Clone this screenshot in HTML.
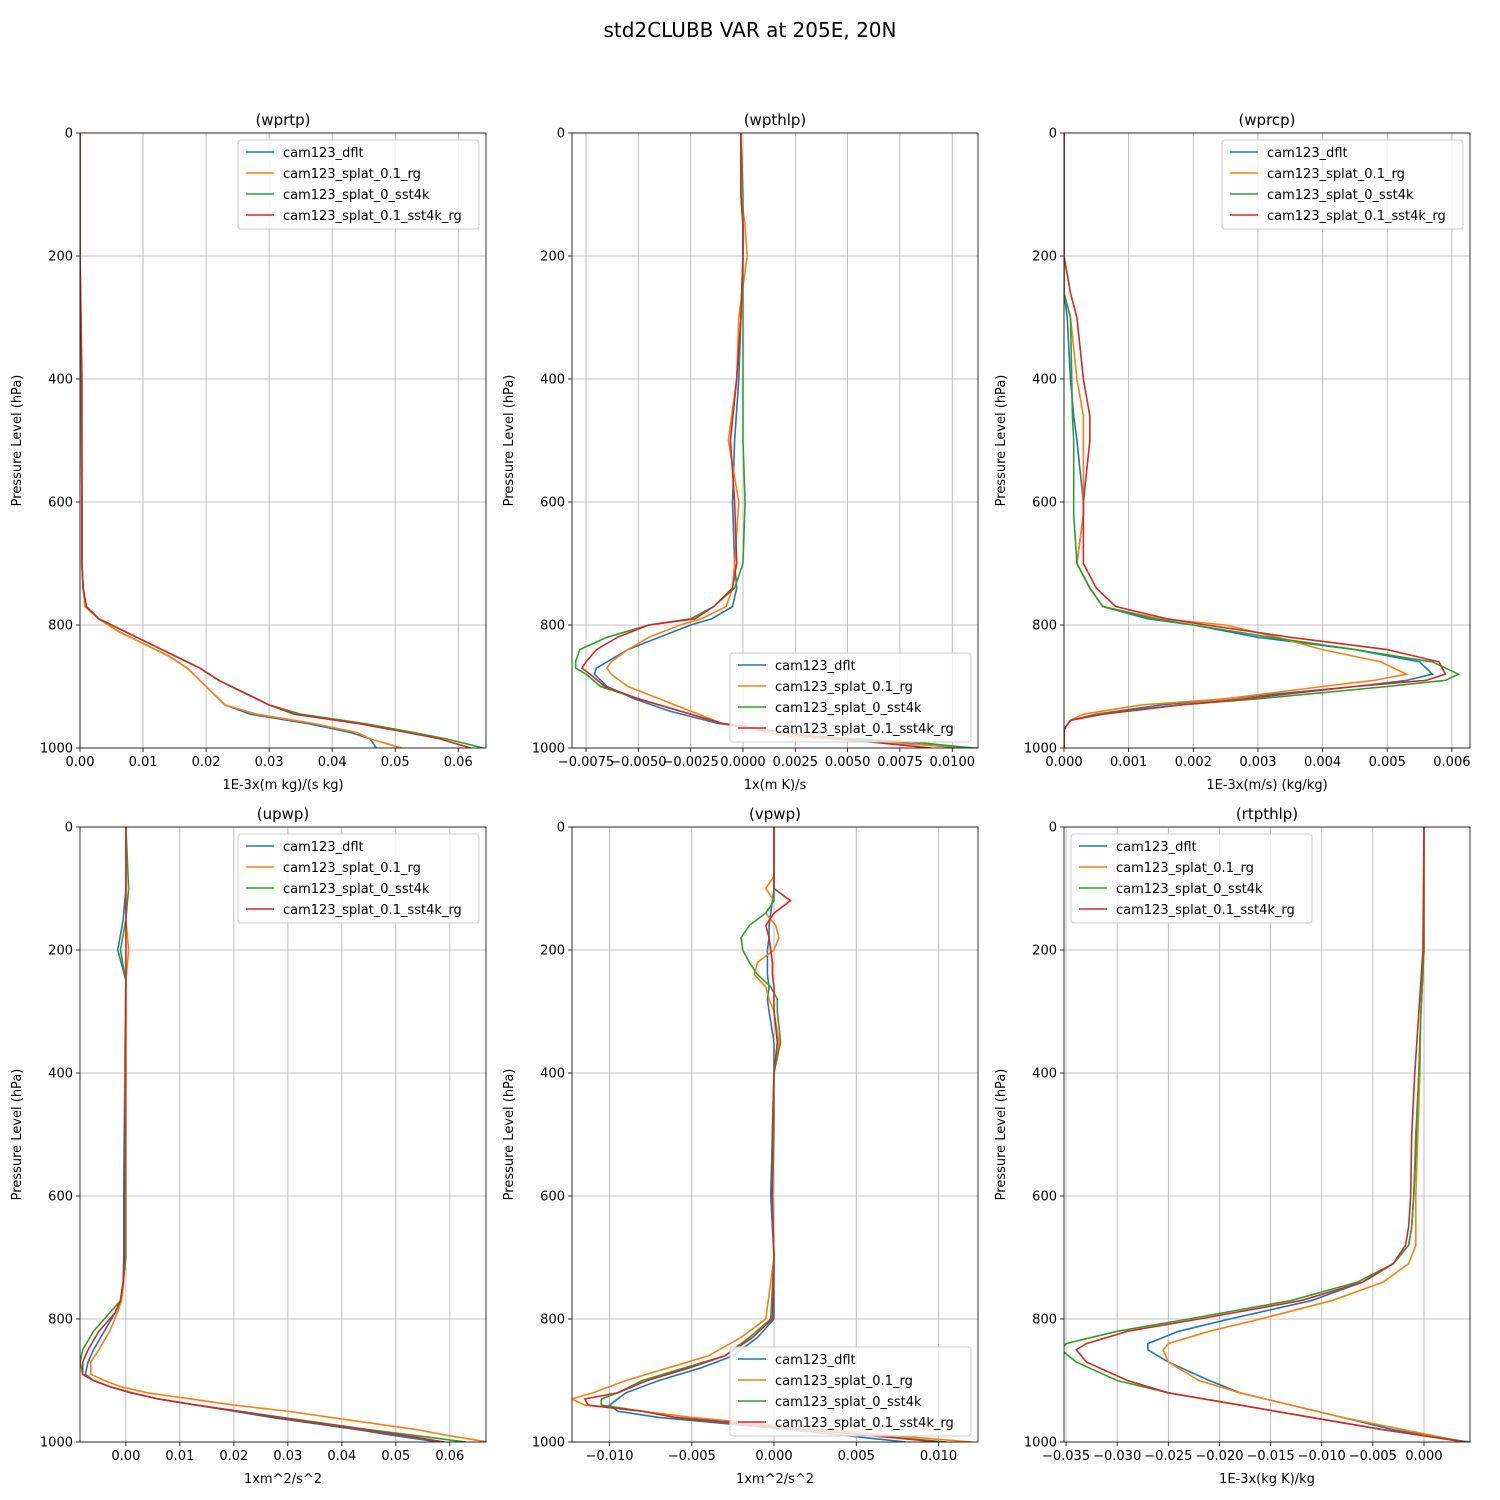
<!DOCTYPE html>
<html><head><meta charset="utf-8">
<style>
html,body{margin:0;padding:0;background:#fff;}
svg{display:block;font-family:"DejaVu Sans","Liberation Sans",sans-serif;}
</style></head>
<body>
<svg id="chart" width="1500" height="1500" viewBox="0 0 1500 1500">
<text x="750" y="37" text-anchor="middle" font-size="20">std2CLUBB VAR at 205E, 20N</text>
</svg>
<script>
const seriesNames=["cam123_dflt","cam123_splat_0.1_rg","cam123_splat_0_sst4k","cam123_splat_0.1_sst4k_rg"];
const colors=["#1f77b4","#ff7f0e","#2ca02c","#d62728"];
const yTicks=[0,200,400,600,800,1000];

// wprtp
const p1Levels=[0,200,400,600,700,740,770,790,810,830,850,870,890,910,930,945,960,975,985,1000];
const p1Dflt=[0,0,0.0002,0.0003,0.0003,0.0005,0.001,0.003,0.006,0.010,0.014,0.017,0.019,0.021,0.023,0.027,0.036,0.043,0.046,0.047];
const p1Rg=[0,0,0.0003,0.0003,0.0003,0.0005,0.0008,0.003,0.006,0.010,0.014,0.017,0.019,0.021,0.023,0.028,0.037,0.044,0.046,0.051];
const p1Sst=[0,0,0.0002,0.0003,0.0003,0.0005,0.001,0.003,0.007,0.011,0.015,0.019,0.022,0.026,0.030,0.035,0.045,0.053,0.058,0.064];
const p1SstRg=[0,0,0.0003,0.0003,0.0003,0.0005,0.001,0.003,0.007,0.011,0.015,0.019,0.022,0.026,0.030,0.034,0.044,0.052,0.057,0.062];
const p1Ticks=[0,0.01,0.02,0.03,0.04,0.05,0.06];

// wpthlp
const p2Levels=[0,100,150,200,300,400,500,600,700,740,770,790,800,820,840,860,870,880,900,920,940,960,980,990,1000];
const p2Dflt=[-0.0001,-0.0001,0,0,-0.0001,-0.0002,-0.0004,-0.0005,-0.0004,-0.0003,-0.0005,-0.0015,-0.0025,-0.004,-0.0055,-0.0065,-0.007,-0.0071,-0.0065,-0.0052,-0.0035,-0.0012,0.003,0.007,0.0105];
const p2Rg=[-0.0001,-0.0001,0.0001,0.0002,-0.0002,-0.0003,-0.0007,-0.0002,-0.0004,-0.0005,-0.0008,-0.002,-0.003,-0.0045,-0.0055,-0.0063,-0.0065,-0.0063,-0.0055,-0.004,-0.0025,-0.001,0.002,0.006,0.0112];
const p2Sst=[-0.0001,0,0,0,0,0,0,0.0001,0,-0.0004,-0.0014,-0.0025,-0.0045,-0.0065,-0.0078,-0.008,-0.008,-0.0075,-0.0068,-0.005,-0.003,-0.001,0.003,0.008,0.011];
const p2SstRg=[-0.0001,-0.0001,0,0,-0.0001,-0.0003,-0.0006,-0.0004,-0.0003,-0.0005,-0.0014,-0.0023,-0.0045,-0.006,-0.007,-0.0075,-0.0077,-0.0073,-0.0066,-0.005,-0.003,-0.001,0.003,0.006,0.009];
const p2Ticks=[-0.0075,-0.005,-0.0025,0,0.0025,0.005,0.0075,0.01];

// wprcp
const p3Levels=[0,100,150,200,260,300,400,460,500,600,620,700,720,740,770,790,800,820,840,860,880,890,900,920,930,945,955,970,1000];
const p3Dflt=[0,0,0,0,0,0.00005,0.0001,0.00015,0.0002,0.0003,0.0003,0.0002,0.0003,0.0004,0.0006,0.0013,0.002,0.003,0.0045,0.0055,0.0057,0.0053,0.0045,0.0025,0.0015,0.0005,0.0001,0,0];
const p3Rg=[0,0,0,0,0,0.0001,0.0002,0.0003,0.0003,0.0003,0.0003,0.0002,0.0003,0.0004,0.0006,0.0015,0.0025,0.0033,0.004,0.0049,0.0053,0.0048,0.004,0.0025,0.0012,0.0003,0.0001,0,0];
const p3Sst=[0,0,0,0,0,0.0001,0.00012,0.00013,0.00015,0.00015,0.00015,0.0002,0.0003,0.0004,0.0006,0.0014,0.002,0.0032,0.0045,0.0057,0.0061,0.0059,0.005,0.003,0.0018,0.0005,0.0001,0,0];
const p3SstRg=[0,0,0,0,0.0001,0.0002,0.0003,0.0004,0.0004,0.0003,0.0003,0.0003,0.0004,0.0005,0.0008,0.0016,0.0022,0.0035,0.005,0.0058,0.0059,0.0056,0.0045,0.0028,0.0018,0.0006,0.0001,0,0];
const p3Ticks=[0,0.001,0.002,0.003,0.004,0.005,0.006];

// upwp
const p4Levels=[0,100,150,200,250,300,400,600,700,740,770,790,820,850,870,890,900,910,920,930,940,950,960,970,980,990,1000];
const p4Dflt=[0,0,-0.0005,-0.0015,0,-0.0001,-0.0002,-0.0004,-0.0004,-0.0005,-0.001,-0.002,-0.004,-0.006,-0.007,-0.0075,-0.006,-0.003,0.001,0.006,0.013,0.020,0.027,0.035,0.043,0.050,0.058];
const p4Rg=[0,0,0,0.0005,0,-0.0001,-0.0002,-0.0002,-0.0002,-0.0004,-0.0008,-0.0016,-0.003,-0.005,-0.0065,-0.0065,-0.004,-0.001,0.004,0.012,0.020,0.030,0.038,0.046,0.054,0.060,0.067];
const p4Sst=[0,0.0005,0,-0.001,0,0,0,0,0,-0.0005,-0.001,-0.003,-0.006,-0.008,-0.0085,-0.008,-0.006,-0.003,0.001,0.006,0.013,0.021,0.029,0.037,0.045,0.054,0.063];
const p4SstRg=[0,0,0,0,0,0,-0.0001,-0.0003,-0.0003,-0.0005,-0.001,-0.002,-0.005,-0.007,-0.008,-0.008,-0.006,-0.003,0.001,0.006,0.013,0.021,0.028,0.036,0.044,0.052,0.059];
const p4Ticks=[0,0.01,0.02,0.03,0.04,0.05,0.06];

// vpwp
const p5Levels=[0,80,100,120,140,160,180,200,220,240,260,280,300,350,400,500,600,700,800,830,860,880,900,920,930,940,950,960,980,1000];
const p5Dflt=[0,0,0,-0.0001,-0.0002,-0.0003,-0.0003,-0.0004,-0.0004,-0.0004,-0.0003,-0.0004,-0.0003,0,0,-0.0001,-0.0002,0,0,-0.001,-0.0025,-0.0045,-0.007,-0.009,-0.0095,-0.010,-0.0095,-0.007,0.001,0.008];
const p5Rg=[0,0,-0.0005,0,-0.0005,0.0001,0.0003,0,-0.001,-0.0012,-0.0005,-0.0003,0,0.0003,0,-0.0001,-0.0001,0,-0.0005,-0.002,-0.004,-0.0065,-0.009,-0.011,-0.0123,-0.0115,-0.008,-0.005,0.003,0.012];
const p5Sst=[0,0,0,0,-0.0005,-0.0015,-0.002,-0.0019,-0.0015,-0.001,-0.0002,0.0002,0.0002,0.0004,0,0,-0.0001,0,-0.0002,-0.0015,-0.003,-0.0055,-0.008,-0.0095,-0.0105,-0.0105,-0.008,-0.006,0.002,0.0105];
const p5SstRg=[0,0,0,0.001,0,-0.0005,-0.0003,-0.0002,-0.0001,-0.0001,0,0,0,0.0002,0,-0.0001,-0.0001,0,-0.0001,-0.0013,-0.003,-0.0052,-0.0077,-0.0095,-0.0115,-0.0113,-0.008,-0.006,0.002,0.010];
const p5Ticks=[-0.01,-0.005,0,0.005,0.01];

// rtpthlp
const p6Levels=[0,200,300,400,500,600,650,680,710,740,770,800,820,840,850,870,900,920,940,960,980,1000];
const p6Dflt=[0,0,-0.0003,-0.0005,-0.0007,-0.001,-0.0012,-0.0015,-0.003,-0.006,-0.011,-0.019,-0.024,-0.027,-0.027,-0.025,-0.021,-0.018,-0.013,-0.008,-0.003,0.004];
const p6Rg=[0,0,-0.0003,-0.0004,-0.0006,-0.0008,-0.0008,-0.0008,-0.0015,-0.004,-0.009,-0.016,-0.021,-0.025,-0.0255,-0.025,-0.022,-0.018,-0.013,-0.008,-0.002,0.004];
const p6Sst=[0,0,-0.0003,-0.0005,-0.0008,-0.001,-0.0012,-0.0015,-0.003,-0.0065,-0.013,-0.023,-0.030,-0.035,-0.0355,-0.034,-0.030,-0.025,-0.018,-0.011,-0.004,0.0045];
const p6SstRg=[0,-0.0001,-0.0005,-0.0009,-0.0012,-0.0013,-0.0015,-0.0018,-0.003,-0.006,-0.012,-0.022,-0.029,-0.033,-0.034,-0.033,-0.029,-0.025,-0.018,-0.011,-0.004,0.004];
const p6Ticks=[-0.035,-0.03,-0.025,-0.02,-0.015,-0.01,-0.005,0];

const NS="http://www.w3.org/2000/svg";
const svg=document.getElementById('chart');
function mk(tag,attrs,parent){const e=document.createElementNS(NS,tag);for(const k in attrs)e.setAttribute(k,attrs[k]);(parent||svg).appendChild(e);return e;}
function fmt(v,d){const s=Math.abs(v).toFixed(d);return (v<-1e-12?"\u2212":"")+s;}

const panels=[
 {key:"wprtp",x0:80,y0:133,xmin:0,xmax:0.0644,lv:p1Levels,s:[p1Dflt,p1Rg,p1Sst,p1SstRg],ticks:p1Ticks,dec:2,xl:"1E-3x(m kg)/(s kg)",leg:[238,140]},
 {key:"wpthlp",x0:572,y0:133,xmin:-0.00817,xmax:0.01123,lv:p2Levels,s:[p2Dflt,p2Rg,p2Sst,p2SstRg],ticks:p2Ticks,dec:4,xl:"1x(m K)/s",leg:[730,653]},
 {key:"wprcp",x0:1064,y0:133,xmin:0,xmax:0.00628,lv:p3Levels,s:[p3Dflt,p3Rg,p3Sst,p3SstRg],ticks:p3Ticks,dec:3,xl:"1E-3x(m/s) (kg/kg)",leg:[1222,140]},
 {key:"upwp",x0:80,y0:827,xmin:-0.0085,xmax:0.0667,lv:p4Levels,s:[p4Dflt,p4Rg,p4Sst,p4SstRg],ticks:p4Ticks,dec:2,xl:"1xm^2/s^2",leg:[238,834]},
 {key:"vpwp",x0:572,y0:827,xmin:-0.01228,xmax:0.0124,lv:p5Levels,s:[p5Dflt,p5Rg,p5Sst,p5SstRg],ticks:p5Ticks,dec:3,xl:"1xm^2/s^2",leg:[730,1347]},
 {key:"rtpthlp",x0:1064,y0:827,xmin:-0.0352,xmax:0.0045,lv:p6Levels,s:[p6Dflt,p6Rg,p6Sst,p6SstRg],ticks:p6Ticks,dec:3,xl:"1E-3x(kg K)/kg",leg:[1071,834]}
];
const W=406,H=615;
panels.forEach(p=>{
  const g=mk('g',{});
  
  
  const xs=v=>p.x0+(v-p.xmin)/(p.xmax-p.xmin)*W;
  const ys=v=>p.y0+v/1000*H;
  const cid='clip-'+p.key;
  const cp=mk('clipPath',{id:cid},g);mk('rect',{x:p.x0,y:p.y0,width:W,height:H},cp);
  p.ticks.forEach(t=>{const gl=mk('line',{x1:xs(t),x2:xs(t),y1:p.y0,y2:p.y0+H,stroke:'#b0b0b0','stroke-width':0.8},g);
    });
  yTicks.forEach(t=>{const gl=mk('line',{x1:p.x0,x2:p.x0+W,y1:ys(t),y2:ys(t),stroke:'#b0b0b0','stroke-width':0.8},g);
    });
  p.s.forEach((arr,i)=>{
    const d=arr.map((v,j)=>(j?'L':'M')+xs(v).toFixed(2)+','+ys(p.lv[j]).toFixed(2)).join('');
    const pl=mk('path',{d:d,fill:'none',stroke:colors[i],'stroke-width':1.6,'clip-path':'url(#'+cid+')'},g);
    
    
  });
  const fr=mk('rect',{x:p.x0,y:p.y0,width:W,height:H,fill:'none',stroke:'#000','stroke-width':0.8},g);
  
  p.ticks.forEach(t=>{mk('line',{x1:xs(t),x2:xs(t),y1:p.y0+H,y2:p.y0+H+4,stroke:'#000','stroke-width':0.8},g);
    const tl=mk('text',{x:xs(t),y:p.y0+H+18,'text-anchor':'middle','font-size':13},g);tl.textContent=fmt(t,p.dec);
    });
  yTicks.forEach(t=>{mk('line',{x1:p.x0-4,x2:p.x0,y1:ys(t),y2:ys(t),stroke:'#000','stroke-width':0.8},g);
    const tl=mk('text',{x:p.x0-7,y:ys(t)+4.5,'text-anchor':'end','font-size':13},g);tl.textContent=String(t);
    });
  const tt=mk('text',{x:p.x0+W/2,y:p.y0-8,'text-anchor':'middle','font-size':15},g);tt.textContent='('+p.key+')';
  
  const xl=mk('text',{x:p.x0+W/2,y:p.y0+H+41,'text-anchor':'middle','font-size':13},g);xl.textContent=p.xl;
  
  const yl=mk('text',{x:0,y:0,'text-anchor':'middle','font-size':13,transform:'translate('+(p.x0-59)+','+(p.y0+H/2)+') rotate(-90)'},g);yl.textContent='Pressure Level (hPa)';
  
  const lg=mk('g',{},g);
  
  
  const lx=p.leg[0],ly=p.leg[1];
  mk('rect',{x:lx,y:ly,width:241,height:89,rx:3,fill:'#fff','fill-opacity':0.8,stroke:'#ccc','stroke-width':1},lg);
  seriesNames.forEach((n,i)=>{
    const yy=ly+12+i*21;
    mk('line',{x1:lx+8,x2:lx+36,y1:yy,y2:yy,stroke:colors[i],'stroke-width':1.6},lg);
    const lt=mk('text',{x:lx+45,y:yy+5,'font-size':13},lg);lt.textContent=n;
    
  });
});
</script>
</body></html>
